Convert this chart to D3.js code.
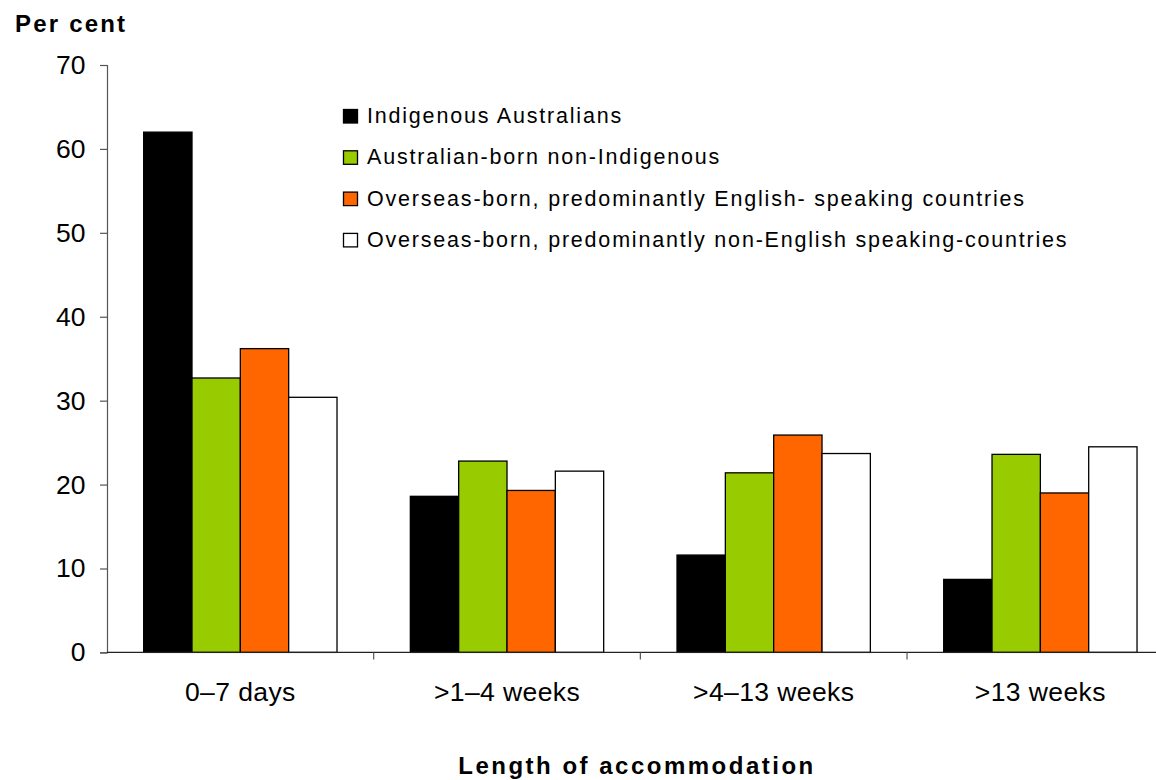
<!DOCTYPE html>
<html>
<head>
<meta charset="utf-8">
<script src="https://cdn.jsdelivr.net/npm/d3@7"></script>
<style>
  body { margin: 0; background: #fff; }
  svg { display: block; font-family: "Liberation Sans", Arial, sans-serif; }
</style>
</head>
<body>
<svg id="chart" width="1156" height="780"></svg>
<script>
const categories = ["0\u20137 days", ">1\u20134 weeks", ">4\u201313 weeks", ">13 weeks"];
const seriesNames = [
  "Indigenous Australians",
  "Australian-born non-Indigenous",
  "Overseas-born, predominantly English- speaking countries",
  "Overseas-born, predominantly non-English speaking-countries"
];
const indigenous = [62.0, 18.6, 11.6, 8.7];
const australianBorn = [32.7, 22.8, 21.4, 23.6];
const overseasEnglish = [36.2, 19.3, 25.9, 19.0];
const overseasNonEnglish = [30.4, 21.6, 23.7, 24.5];
const yTicks = [0, 10, 20, 30, 40, 50, 60, 70];
const colors = ["#000000", "#99CC00", "#FF6600", "#FFFFFF"];

(function () {
const seriesValues = [indigenous, australianBorn, overseasEnglish, overseasNonEnglish];

const svg = d3.select("#chart");
const mLeft = 107, mRight = 1173.7, mTop = 65, mBottom = 652.4;

const y = d3.scaleLinear().domain([0, 70]).range([mBottom, mTop]);
const x0 = d3.scaleBand().domain(categories).range([mLeft, mRight])
  .paddingInner(0.275).paddingOuter(0.1375);
const x1 = d3.scaleBand().domain(d3.range(seriesNames.length)).range([0, x0.bandwidth()]);

// Bars
const groups = svg.append("g").selectAll("g").data(categories).join("g")
  .attr("transform", d => `translate(${x0(d)},0)`);
groups.selectAll("rect")
  .data((c, ci) => seriesValues.map((vals, si) => ({ si, v: vals[ci] })))
  .join("rect")
  .attr("x", d => x1(d.si))
  .attr("y", d => y(d.v))
  .attr("width", x1.bandwidth())
  .attr("height", d => y(0) - y(d.v))
  .attr("fill", d => colors[d.si])
  .attr("stroke", "#000")
  .attr("stroke-width", 1.3);

// Y axis
const yAxis = d3.axisLeft(y).tickValues(yTicks).tickSize(7).tickPadding(14.5);
const ya = svg.append("g").attr("transform", `translate(${mLeft},0)`).call(yAxis);
ya.select(".domain").attr("stroke", "#555").attr("stroke-width", 1.2);
ya.selectAll(".tick line").attr("stroke", "#555").attr("stroke-width", 1.2);
ya.selectAll(".tick text").attr("font-size", 26.5).attr("fill", "#000")
  .attr("font-family", "Liberation Sans, Arial, sans-serif");

// X axis line
const step = x0.step();
const boundaries = d3.range(categories.length + 1).map(i => mLeft + i * step);
svg.append("line")
  .attr("x1", mLeft).attr("x2", mRight)
  .attr("y1", y(0)).attr("y2", y(0))
  .attr("stroke", "#222").attr("stroke-width", 1.3);
svg.append("g").selectAll("line").data(boundaries.slice(1)).join("line")
  .attr("x1", d => d).attr("x2", d => d)
  .attr("y1", y(0)).attr("y2", y(0) + 7)
  .attr("stroke", "#555").attr("stroke-width", 1.2);
svg.append("g").selectAll("text").data(categories).join("text")
  .attr("x", d => x0(d) + x0.bandwidth() / 2)
  .attr("y", 701)
  .attr("text-anchor", "middle")
  .attr("font-size", 26.5)
  .attr("letter-spacing", "0.4px")
  .text(d => d);

// Titles
svg.append("text").attr("x", 15).attr("y", 31.5)
  .attr("font-size", 24).attr("font-weight", "bold")
  .attr("letter-spacing", "2.2px").text("Per cent");
svg.append("text").attr("x", 637).attr("y", 774)
  .attr("text-anchor", "middle")
  .attr("font-size", 24).attr("font-weight", "bold")
  .attr("letter-spacing", "2.5px").text("Length of accommodation");

// Legend
const legend = svg.append("g");
const lg = legend.selectAll("g").data(seriesNames).join("g")
  .attr("transform", (d, i) => `translate(343.5, ${123 + i * 41.3})`);
lg.append("rect")
  .attr("x", 0).attr("y", -13.5).attr("width", 14).attr("height", 13.5)
  .attr("fill", (d, i) => colors[i]).attr("stroke", "#000").attr("stroke-width", 1.3);
lg.append("text")
  .attr("x", 23.5).attr("y", 0)
  .attr("font-size", 21.5)
  .attr("letter-spacing", "1.8px")
  .text(d => d);
})();
</script>
</body>
</html>
